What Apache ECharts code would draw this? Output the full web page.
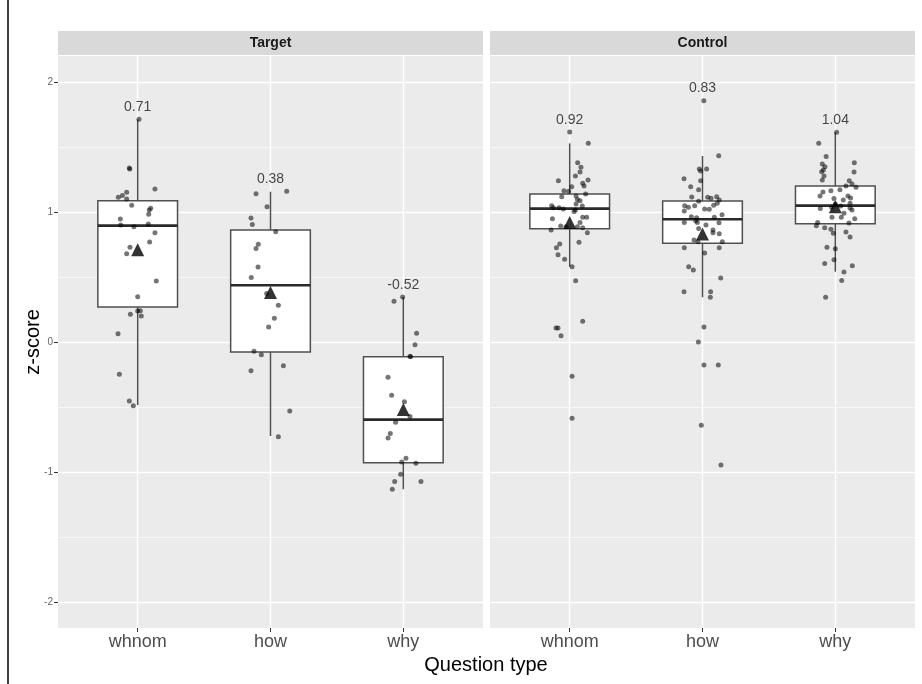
<!DOCTYPE html>
<html>
<head>
<meta charset="utf-8">
<script src="https://cdn.jsdelivr.net/npm/echarts@6/dist/echarts.min.js"></script>
<style>
  html, body { margin: 0; padding: 0; background: #fff; }
  #chart { width: 922px; height: 684px; }
</style>
</head>
<body>
<div id="chart"></div>
<script>
const categories = ["whnom", "how", "why"];
const facets = ["Target", "Control"];
const xTicks = [0, 1, 2];
const yTicks = [-2, -1, 0, 1, 2];

// box stats per category: [lower whisker, Q1, median, Q3, upper whisker]
const targetBoxes = [
  [-0.485, 0.269, 0.895, 1.087, 1.713],
  [-0.723, -0.077, 0.436, 0.862, 1.156],
  [-1.133, -0.928, -0.597, -0.113, 0.346],
];
const controlBoxes = [
  [0.579, 0.872, 1.026, 1.138, 1.528],
  [0.344, 0.759, 0.944, 1.085, 1.431],
  [0.541, 0.91, 1.049, 1.2, 1.613],
];

const targetMeans = [0.71, 0.38, -0.52];
const controlMeans = [0.92, 0.83, 1.04];

// jittered observations: [horizontal jitter, z-score]
const targetWhnom = [
  [0.01, 1.713], [-0.063, 1.338], [-0.06, 1.33], [0.13, 1.177], [-0.083, 1.151],
  [-0.115, 1.126], [-0.146, 1.113], [-0.083, 1.1], [-0.045, 1.051], [0.098, 1.028],
  [0.087, 1.015], [0.083, 0.982], [-0.131, 0.946], [-0.128, 0.9], [-0.028, 0.887],
  [0.08, 0.908], [0.13, 0.841], [0.09, 0.769], [-0.058, 0.728], [-0.083, 0.679],
  [0.14, 0.469], [0, 0.349], [0, 0.238], [0.02, 0.241], [-0.055, 0.213],
  [0.027, 0.2], [-0.148, 0.064], [-0.138, -0.249], [-0.063, -0.454], [-0.033, -0.49],
];
const targetHow = [
  [-0.109, 1.141], [0.122, 1.159], [-0.026, 1.041], [-0.147, 0.954], [-0.137, 0.903],
  [0.039, 0.849], [-0.092, 0.751], [-0.109, 0.72], [-0.094, 0.577], [-0.145, 0.497],
  [-0.029, 0.374], [0.059, 0.282], [0.029, 0.182], [-0.014, 0.115], [-0.124, -0.072],
  [-0.069, -0.098], [-0.147, -0.221], [0.097, -0.182], [0.145, -0.531], [0.059, -0.728],
];
const targetWhy = [
  [-0.07, 0.313], [-0.005, 0.346], [0.1, 0.067], [0.088, -0.021], [0.055, -0.113],
  [0.05, -0.11], [-0.115, -0.272], [-0.088, -0.41], [0.008, -0.459], [0.05, -0.574],
  [-0.058, -0.618], [-0.098, -0.703], [-0.115, -0.738], [0.02, -0.895], [-0.012, -0.923],
  [0.095, -0.933], [-0.02, -1.018], [-0.065, -1.074], [0.133, -1.074], [-0.083, -1.133],
];
const controlWhnom = [
  [0, 1.615], [0.14, 1.528], [0.06, 1.379], [0.085, 1.344], [0.078, 1.308],
  [0.043, 1.277], [-0.085, 1.241], [0.138, 1.246], [0.098, 1.221], [0.015, 1.195],
  [0.108, 1.2], [-0.043, 1.164], [-0.008, 1.159], [0.12, 1.138], [-0.06, 1.118],
  [0.048, 1.123], [0.058, 1.097], [0.078, 1.087], [0.048, 1.062], [-0.136, 1.049],
  [-0.123, 1.033], [-0.08, 1.033], [-0.048, 1.023], [0.043, 1.015], [0.095, 1.046],
  [0.033, 1.003], [-0.13, 0.949], [0.098, 0.959], [0.128, 0.959], [0.078, 0.92],
  [-0.068, 0.892], [-0.028, 0.887], [0.058, 0.887], [0.098, 0.879], [-0.14, 0.862],
  [0.133, 0.841], [0.07, 0.767], [-0.075, 0.754], [-0.1, 0.725], [-0.088, 0.672],
  [-0.038, 0.636], [0.018, 0.579], [0.045, 0.472], [0.098, 0.159], [-0.103, 0.108],
  [-0.088, 0.108], [-0.065, 0.049], [0.018, -0.264], [0.018, -0.587],
];
const controlHow = [
  [0.01, 1.856], [0.122, 1.433], [-0.024, 1.331], [0.031, 1.331], [-0.014, 1.315],
  [-0.139, 1.256], [-0.014, 1.241], [-0.089, 1.195], [-0.029, 1.172], [-0.081, 1.115],
  [0.039, 1.113], [0.064, 1.105], [0.107, 1.118], [0.126, 1.092], [-0.029, 1.082],
  [0.111, 1.067], [-0.134, 1.049], [-0.106, 1.036], [-0.059, 1.049], [0.016, 1.023],
  [0.051, 1.021], [0.084, 1.051], [-0.137, 1.008], [0.147, 0.979], [-0.084, 0.964],
  [-0.044, 0.956], [0.089, 0.959], [-0.051, 0.933], [-0.137, 0.92], [-0.039, 0.92],
  [0.026, 0.9], [0.124, 0.918], [-0.029, 0.874], [0.079, 0.862], [0.079, 0.841],
  [0.126, 0.833], [-0.064, 0.785], [-0.034, 0.772], [0.149, 0.772], [-0.137, 0.725],
  [0.126, 0.725], [0.016, 0.685], [-0.104, 0.579], [-0.069, 0.554], [0.137, 0.492],
  [-0.139, 0.387], [0.061, 0.387], [0.059, 0.344], [0.011, 0.115], [-0.031, 0.0],
  [0.011, -0.177], [0.119, -0.177], [-0.009, -0.641], [0.139, -0.946],
];
const controlWhy = [
  [0.01, 1.613], [-0.125, 1.528], [-0.069, 1.426], [-0.098, 1.369], [-0.078, 1.349],
  [0.143, 1.379], [-0.09, 1.323], [-0.103, 1.31], [0.141, 1.308], [-0.085, 1.277],
  [-0.098, 1.246], [0.105, 1.241], [0.126, 1.215], [0.08, 1.2], [0.156, 1.19],
  [0.035, 1.172], [-0.033, 1.164], [-0.093, 1.154], [-0.115, 1.123], [0.095, 1.123],
  [0.06, 1.092], [0.115, 1.108], [-0.01, 1.103], [0.111, 1.067], [0, 1.062],
  [-0.028, 1.036], [0.04, 1.046], [-0.113, 1.026], [0.111, 1.031], [0.126, 1.015],
  [0.065, 0.99], [-0.025, 0.959], [0.045, 0.959], [0.146, 0.949], [-0.133, 0.92],
  [-0.143, 0.895], [-0.08, 0.879], [-0.033, 0.867], [-0.015, 0.836], [0.103, 0.915],
  [0.08, 0.846], [0.111, 0.808], [-0.063, 0.728], [0, 0.718], [-0.01, 0.633],
  [-0.08, 0.603], [0.128, 0.587], [0.065, 0.538], [0.048, 0.474], [-0.073, 0.344],
];

const groups = [
  { boxes: targetBoxes, means: targetMeans, pts: [targetWhnom, targetHow, targetWhy] },
  { boxes: controlBoxes, means: controlMeans, pts: [controlWhnom, controlHow, controlWhy] },
];

const BOX_W = 0.6;
const FONT = "'Liberation Sans', Arial, sans-serif";

function renderBox(params, api) {
  const x = api.value(0);
  const lo = api.coord([x, api.value(1)]);
  const q1 = api.coord([x, api.value(2)]);
  const med = api.coord([x, api.value(3)]);
  const q3 = api.coord([x, api.value(4)]);
  const hi = api.coord([x, api.value(5)]);
  const w = api.size([BOX_W, 0])[0];
  const cx = q1[0];
  const edge = { stroke: "#505050", lineWidth: 1.5 };
  return {
    type: "group",
    children: [
      { type: "line", shape: { x1: cx, y1: hi[1], x2: cx, y2: q3[1] }, style: edge },
      { type: "line", shape: { x1: cx, y1: q1[1], x2: cx, y2: lo[1] }, style: edge },
      {
        type: "rect",
        shape: { x: cx - w / 2, y: q3[1], width: w, height: q1[1] - q3[1] },
        style: { fill: "#fff", stroke: "#505050", lineWidth: 1.5 },
      },
      {
        type: "line",
        shape: { x1: cx - w / 2, y1: med[1], x2: cx + w / 2, y2: med[1] },
        style: { stroke: "#2a2a2a", lineWidth: 2.6 },
      },
    ],
  };
}

const chart = echarts.init(document.getElementById("chart"));

const grids = [
  { left: 58, top: 56, width: 425, height: 572, show: true, backgroundColor: "#EBEBEB", borderWidth: 0 },
  { left: 490, top: 56, width: 425, height: 572, show: true, backgroundColor: "#EBEBEB", borderWidth: 0 },
];

const xAxes = grids.map((g, i) => ({
  type: "value",
  gridIndex: i,
  position: "bottom",
  min: -0.6,
  max: 2.6,
  splitNumber: 3,
  axisLine: { show: false, onZero: false },
  axisTick: { show: true, length: 4, customValues: xTicks, lineStyle: { color: "#333", width: 1 } },
  axisLabel: {
    customValues: xTicks,
    margin: 5,
    fontSize: 18,
    fontFamily: FONT,
    color: "#4D4D4D",
    formatter: (v) => categories[Math.round(v)],
  },
  splitLine: { show: true, lineStyle: { color: "#fff", width: 1.4 } },
}));

const yAxes = grids.map((g, i) => ({
  type: "value",
  gridIndex: i,
  position: "left",
  min: -2.2,
  max: 2.2,
  splitNumber: 4,
  name: i === 0 ? "z-score" : "",
  nameLocation: "middle",
  nameGap: 15,
  nameMoveOverlap: false,
  nameTextStyle: { fontSize: 20, fontFamily: FONT, color: "#000" },
  axisLine: { show: false, onZero: false },
  axisTick: { show: i === 0, length: 4, customValues: yTicks, lineStyle: { color: "#333", width: 1 } },
  axisLabel: {
    show: i === 0,
    customValues: yTicks,
    margin: 5,
    fontSize: 10,
    fontFamily: FONT,
    color: "#666",
  },
  splitLine: { show: true, lineStyle: { color: "#fff", width: 1.4 } },
  minorTick: { show: false, splitNumber: 2 },
  minorSplitLine: { show: true, lineStyle: { color: "#fff", width: 0.6 } },
}));

const series = [];
groups.forEach((grp, gi) => {
  series.push({
    type: "custom",
    xAxisIndex: gi,
    yAxisIndex: gi,
    renderItem: renderBox,
    encode: { x: 0, y: [1, 2, 3, 4, 5] },
    data: grp.boxes.map((b, ci) => [ci].concat(b)),
    z: 2,
  });
  const pts = [];
  grp.pts.forEach((list, ci) => list.forEach((p) => pts.push([ci + p[0], p[1]])));
  series.push({
    type: "scatter",
    xAxisIndex: gi,
    yAxisIndex: gi,
    symbolSize: 5,
    itemStyle: { color: "rgba(0,0,0,0.68)" },
    data: pts,
    z: 3,
  });
  series.push({
    type: "scatter",
    xAxisIndex: gi,
    yAxisIndex: gi,
    symbol: "triangle",
    symbolSize: 13,
    itemStyle: { color: "#000" },
    data: grp.means.map((m, ci) => [ci, m]),
    z: 4,
  });
  // mean labels above the highest observation of each group
  series.push({
    type: "scatter",
    xAxisIndex: gi,
    yAxisIndex: gi,
    symbolSize: 1,
    itemStyle: { color: "transparent" },
    label: {
      show: true,
      position: "inside",
      fontSize: 14,
      fontFamily: FONT,
      color: "#1A1A1A",
      formatter: (p) => p.value[2].toFixed(2),
    },
    data: grp.means.map((m, ci) => [ci, Math.max(...grp.pts[ci].map((p) => p[1])) + 0.095, m]),
    z: 5,
  });
});

const graphic = [];
grids.forEach((g, i) => {
  graphic.push({
    type: "rect",
    shape: { x: g.left, y: 31, width: g.width, height: 24 },
    style: { fill: "#D9D9D9" },
  });
  graphic.push({
    type: "text",
    x: g.left + g.width / 2,
    y: 43,
    style: {
      text: facets[i],
      fontSize: 14,
      fontWeight: "bold",
      fontFamily: FONT,
      fill: "#1A1A1A",
      align: "center",
      verticalAlign: "middle",
    },
  });
});
graphic.push({
  type: "text",
  x: 486,
  y: 665,
  style: {
    text: "Question type",
    fontSize: 20,
    fontFamily: FONT,
    fill: "#000",
    align: "center",
    verticalAlign: "middle",
  },
});
graphic.push({
  type: "line",
  shape: { x1: 8, y1: 0, x2: 8, y2: 684 },
  style: { stroke: "#000", lineWidth: 1.5 },
});

chart.setOption({
  animation: false,
  grid: grids,
  xAxis: xAxes,
  yAxis: yAxes,
  series: series,
  graphic: graphic,
});
</script>
</body>
</html>
